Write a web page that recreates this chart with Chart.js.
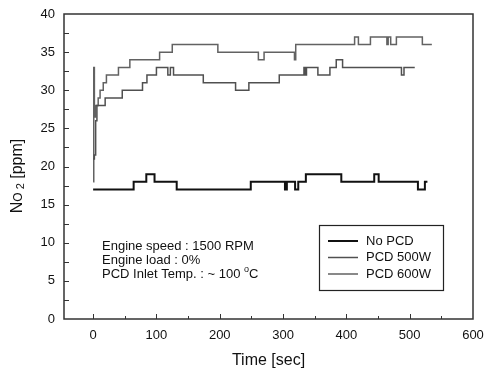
<!DOCTYPE html>
<html>
<head>
<meta charset="utf-8">
<script src="https://cdn.jsdelivr.net/npm/chart.js@4"></script>
<style>
  html, body { margin: 0; padding: 0; background: #fff; }
  #wrap { width: 484px; height: 374px; }
</style>
</head>
<body>
<div id="wrap"><canvas id="no2Chart" width="484" height="374"></canvas></div>
<script>
// datos (tiempo en s, NO2 en ppm)
const noPcdTime = [0, 64, 84, 97, 132, 249, 303, 306, 319, 324, 336, 392, 444, 451, 513, 524, 528];
const noPcdVal  = [17, 18, 19, 18, 17, 18, 17, 18, 17, 18, 19, 18, 19, 18, 17, 18, 18];

const pcd500Time = [0, 2, 4, 6, 9, 19, 46, 78, 85, 100, 118, 122, 127, 174, 225, 246, 294, 333, 335, 337, 355, 374, 384, 394, 487, 491, 508];
const pcd500Val  = [21, 21.5, 26, 28, 28, 29, 30, 31, 32, 33, 32, 33, 32, 31, 30, 31, 32, 33, 32, 33, 32, 33, 34, 33, 32, 33, 33];

const pcd600Time = [0, 1, 2, 4, 8, 11, 16, 21, 40, 58, 105, 125, 197, 261, 270, 318, 320, 413, 419, 438, 464, 466, 470, 479, 520, 535];
const pcd600Val  = [18, 33, 26.5, 28, 29, 30, 31, 32, 33, 34, 35, 36, 35, 34, 35, 34, 36, 37, 36, 37, 36, 37, 36, 37, 36, 36];

const seriesLabels = ['No PCD', 'PCD 500W', 'PCD 600W'];
const seriesColors = ['#111111', '#505050', '#626262'];
const xTickValues = [0, 100, 200, 300, 400, 500, 600];
const notes = ['Engine speed : 1500 RPM', 'Engine load : 0%', 'PCD Inlet Temp. : ~ 100 '];

const toPoints = (t, v) => t.map((x, i) => ({ x: x, y: v[i] }));

const FONT = '"Liberation Sans", Arial, sans-serif';

// ticks hacia adentro, marco completo, leyenda, notas y titulo del eje Y
const decoPlugin = {
    id: 'deco',
    afterDraw(chart) {
        const ctx = chart.ctx;
        const a = chart.chartArea;
        const xs = chart.scales.x, ys = chart.scales.y;
        ctx.save();
        ctx.strokeStyle = '#333';
        ctx.lineWidth = 1.5;
        // marco
        ctx.strokeRect(a.left, a.top, a.right - a.left, a.bottom - a.top);
        // ticks eje x
        ctx.lineWidth = 1;
        for (let v = 0; v <= 550; v += 50) {
            const px = Math.round(xs.getPixelForValue(v)) + 0.5;
            const len = v % 100 === 0 ? 5 : 3;
            ctx.beginPath();
            ctx.moveTo(px, a.bottom);
            ctx.lineTo(px, a.bottom - len);
            ctx.stroke();
        }
        // ticks eje y
        for (let v = 2.5; v < 40; v += 2.5) {
            const py = Math.round(ys.getPixelForValue(v)) + 0.5;
            ctx.beginPath();
            ctx.moveTo(a.left, py);
            ctx.lineTo(a.left + 5, py);
            ctx.stroke();
        }

        // notas
        ctx.fillStyle = '#111';
        ctx.font = '13px ' + FONT;
        ctx.textBaseline = 'middle';
        ctx.textAlign = 'left';
        const nx = a.left + 38;
        notes.forEach((n, i) => ctx.fillText(n, nx, 246 + i * 14));
        const w = ctx.measureText(notes[2]).width;
        ctx.font = '9px ' + FONT;
        ctx.fillText('o', nx + w, 270);
        const wo = ctx.measureText('o').width;
        ctx.font = '13px ' + FONT;
        ctx.fillText('C', nx + w + wo, 274);

        // leyenda
        ctx.strokeStyle = '#222';
        ctx.lineWidth = 1.2;
        ctx.strokeRect(319.5, 225.5, 124, 65);
        seriesLabels.forEach((lab, i) => {
            const y = 241 + i * 16.5;
            ctx.strokeStyle = seriesColors[i];
            ctx.lineWidth = i === 0 ? 2 : 1.5;
            ctx.beginPath();
            ctx.moveTo(328, y);
            ctx.lineTo(358, y);
            ctx.stroke();
            ctx.fillStyle = '#111';
            ctx.fillText(lab, 366, y);
        });

        // titulo eje y: NO2 [ppm]
        ctx.translate(18, 176);
        ctx.rotate(-Math.PI / 2);
        ctx.textAlign = 'left';
        ctx.font = '16px ' + FONT;
        const parts = [['N', 16, 0], ['O', 12, 1], [' 2', 11, 3], [' [ppm]', 16, 0]];
        let total = 0;
        parts.forEach(p => { ctx.font = p[1] + 'px ' + FONT; total += ctx.measureText(p[0]).width; });
        let cx = -total / 2;
        parts.forEach(p => {
            ctx.font = p[1] + 'px ' + FONT;
            ctx.fillText(p[0], cx, p[2]);
            cx += ctx.measureText(p[0]).width;
        });
        ctx.restore();
    }
};

const ctx = document.getElementById('no2Chart').getContext('2d');

new Chart(ctx, {
    type: 'line',
    data: {
        datasets: [
            { label: seriesLabels[0], data: toPoints(noPcdTime, noPcdVal), borderColor: seriesColors[0], borderWidth: 2 },
            { label: seriesLabels[1], data: toPoints(pcd500Time, pcd500Val), borderColor: seriesColors[1], borderWidth: 1.5 },
            { label: seriesLabels[2], data: toPoints(pcd600Time, pcd600Val), borderColor: seriesColors[2], borderWidth: 1.5 }
        ]
    },
    options: {
        responsive: false,
        animation: false,
        elements: {
            point: { radius: 0 },
            line: { stepped: 'before', tension: 0 }
        },
        layout: { padding: { top: 14, right: 11, left: 0, bottom: 0 } },
        scales: {
            x: {
                type: 'linear',
                min: -46,
                max: 600,
                afterBuildTicks: s => { s.ticks = xTickValues.map(v => ({ value: v })); },
                afterFit: s => { s.height = 55; s.paddingLeft = 0; s.paddingRight = 0; },
                grid: { display: false, drawTicks: false },
                border: { display: false },
                ticks: { color: '#111', font: { family: FONT, size: 13 }, padding: 9, maxRotation: 0 },
                title: {
                    display: true,
                    text: 'Time [sec]',
                    color: '#111',
                    font: { family: FONT, size: 16 },
                    padding: { top: 2 }
                }
            },
            y: {
                min: 0,
                max: 40,
                afterFit: s => { s.width = 64; s.paddingTop = 0; s.paddingBottom = 0; },
                grid: { display: false, drawTicks: false },
                border: { display: false },
                ticks: { stepSize: 5, color: '#111', font: { family: FONT, size: 13 }, padding: 9 }
            }
        },
        plugins: {
            legend: { display: false },
            tooltip: { enabled: false }
        }
    },
    plugins: [decoPlugin]
});
</script>
</body>
</html>
